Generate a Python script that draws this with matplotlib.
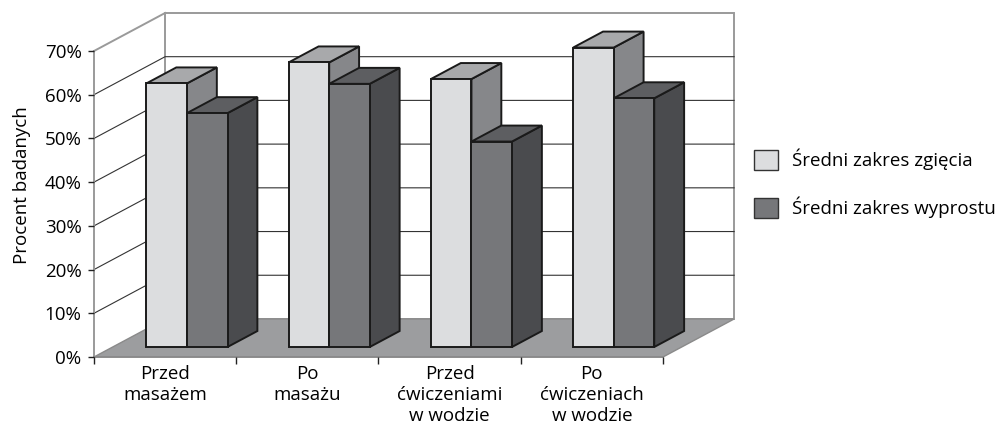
import numpy as np
import matplotlib
matplotlib.use("Agg")
import matplotlib.pyplot as plt
from matplotlib.patches import Polygon, Patch

plt.rcParams['font.family'] = ['Open Sans', 'DejaVu Sans']

categories = ["Przed\nmasażem", "Po\nmasażu", "Przed\nćwiczeniami\nw wodzie", "Po\nćwiczeniach\nw wodzie"]
zgiecie = [60.3, 65.1, 61.3, 68.5]
wyprost = [53.5, 60.2, 47.0, 56.9]
series_names = ["Średni zakres zgięcia", "Średni zakres wyprostu"]
y_ticks = [0, 10, 20, 30, 40, 50, 60, 70]

# oblique depth vector in data units (x: category units, y: percent)
DX, DY = 0.5, 8.7
# colours per series: front, top, side
colors = [("#dcdddf", "#a8a9ab", "#86878a"),
          ("#76777a", "#5d5e61", "#4a4b4e")]
wall_col = "#9a9a9a"
fs = 13.5


def proj(x, y, d):
    return (x + d * DX, y + d * DY)


W, H = 1000, 434
fig = plt.figure(figsize=(W / 100, H / 100), dpi=100)
ax = fig.add_axes([94 / W, 77 / H, 569 / W, 306 / H])
ax.set_xlim(0, len(categories))
ax.set_ylim(0, 70)

n = len(categories)
ymax = y_ticks[-1]

# walls and floor
floor = Polygon([proj(0, 0, 0), proj(n, 0, 0), proj(n, 0, 1), proj(0, 0, 1)],
                closed=True, facecolor="#9c9d9f", edgecolor="#8a8a8a", lw=1, clip_on=False, zorder=1)
ax.add_patch(floor)
back = Polygon([proj(0, 0, 1), proj(n, 0, 1), proj(n, ymax, 1), proj(0, ymax, 1)],
               closed=True, facecolor="white", edgecolor=wall_col, lw=1.4, clip_on=False, zorder=0.5)
ax.add_patch(back)
p0, p1 = proj(0, ymax, 0), proj(0, ymax, 1)
ax.plot([p0[0], p1[0]], [p0[1], p1[1]], color=wall_col, lw=1.4, clip_on=False, zorder=0.6)

for v in y_ticks[1:-1]:
    a, b, c = proj(0, v, 0), proj(0, v, 1), proj(n, v, 1)
    ax.plot([a[0], b[0], c[0]], [a[1], b[1], c[1]], color="#333333", lw=0.8,
            clip_on=False, zorder=0.8)

# bars
bar_w = 0.285
offset = 0.237
d0, d1 = 0.263, 0.683
for s, vals in enumerate([zgiecie, wyprost]):
    front_c, top_c, side_c = colors[s]
    for i, h in enumerate(vals):
        x0 = i + offset + s * bar_w
        x1 = x0 + bar_w
        z = 2 + i * 2 + s
        front = [proj(x0, 0, d0), proj(x1, 0, d0), proj(x1, h, d0), proj(x0, h, d0)]
        top = [proj(x0, h, d0), proj(x1, h, d0), proj(x1, h, d1), proj(x0, h, d1)]
        side = [proj(x1, 0, d0), proj(x1, 0, d1), proj(x1, h, d1), proj(x1, h, d0)]
        for pts, c in [(side, side_c), (top, top_c), (front, front_c)]:
            ax.add_patch(Polygon(pts, closed=True, facecolor=c, edgecolor="#1a1a1a",
                                 lw=1.4, joinstyle="miter", clip_on=False, zorder=z))

# axes
for sp in ["top", "right"]:
    ax.spines[sp].set_visible(False)
ax.spines["left"].set_color(wall_col)
ax.spines["left"].set_linewidth(1.4)
ax.spines["bottom"].set_color("#8a8a8a")
ax.spines["bottom"].set_linewidth(1.2)
ax.spines["left"].set_zorder(1.5)
ax.spines["bottom"].set_zorder(1.5)

ax.set_yticks(y_ticks)
ax.set_yticklabels([f"{v}%" for v in y_ticks])
ax.tick_params(axis="y", length=4, width=1, color="#222222", pad=5, labelsize=fs)

ax.set_xticks(np.arange(n + 1))
ax.set_xticklabels([])
ax.set_xticks(np.arange(n) + 0.5, minor=True)
ax.set_xticklabels(categories, minor=True, fontsize=fs, linespacing=1.22)
ax.tick_params(axis="x", which="major", length=5, width=1, color="#222222")
ax.tick_params(axis="x", which="minor", length=0, pad=6)
ax.patch.set_visible(False)

fig.text(22 / W, 1 - 185 / H, "Procent badanych", rotation=90, ha="center", va="center", fontsize=fs)

handles = [Patch(facecolor=colors[0][0], edgecolor="#333333", lw=1),
           Patch(facecolor=colors[1][0], edgecolor="#333333", lw=1)]
fig.legend(handles, series_names, loc="upper left", bbox_to_anchor=(754 / W, 1 - 149 / H),
           bbox_transform=fig.transFigure, frameon=False, fontsize=fs, borderpad=0,
           borderaxespad=0, handlelength=24 / 18.75, handleheight=24 / 18.75,
           handletextpad=14 / 18.75, labelspacing=26 / 18.75)

fig.savefig("out.png", dpi=100)
